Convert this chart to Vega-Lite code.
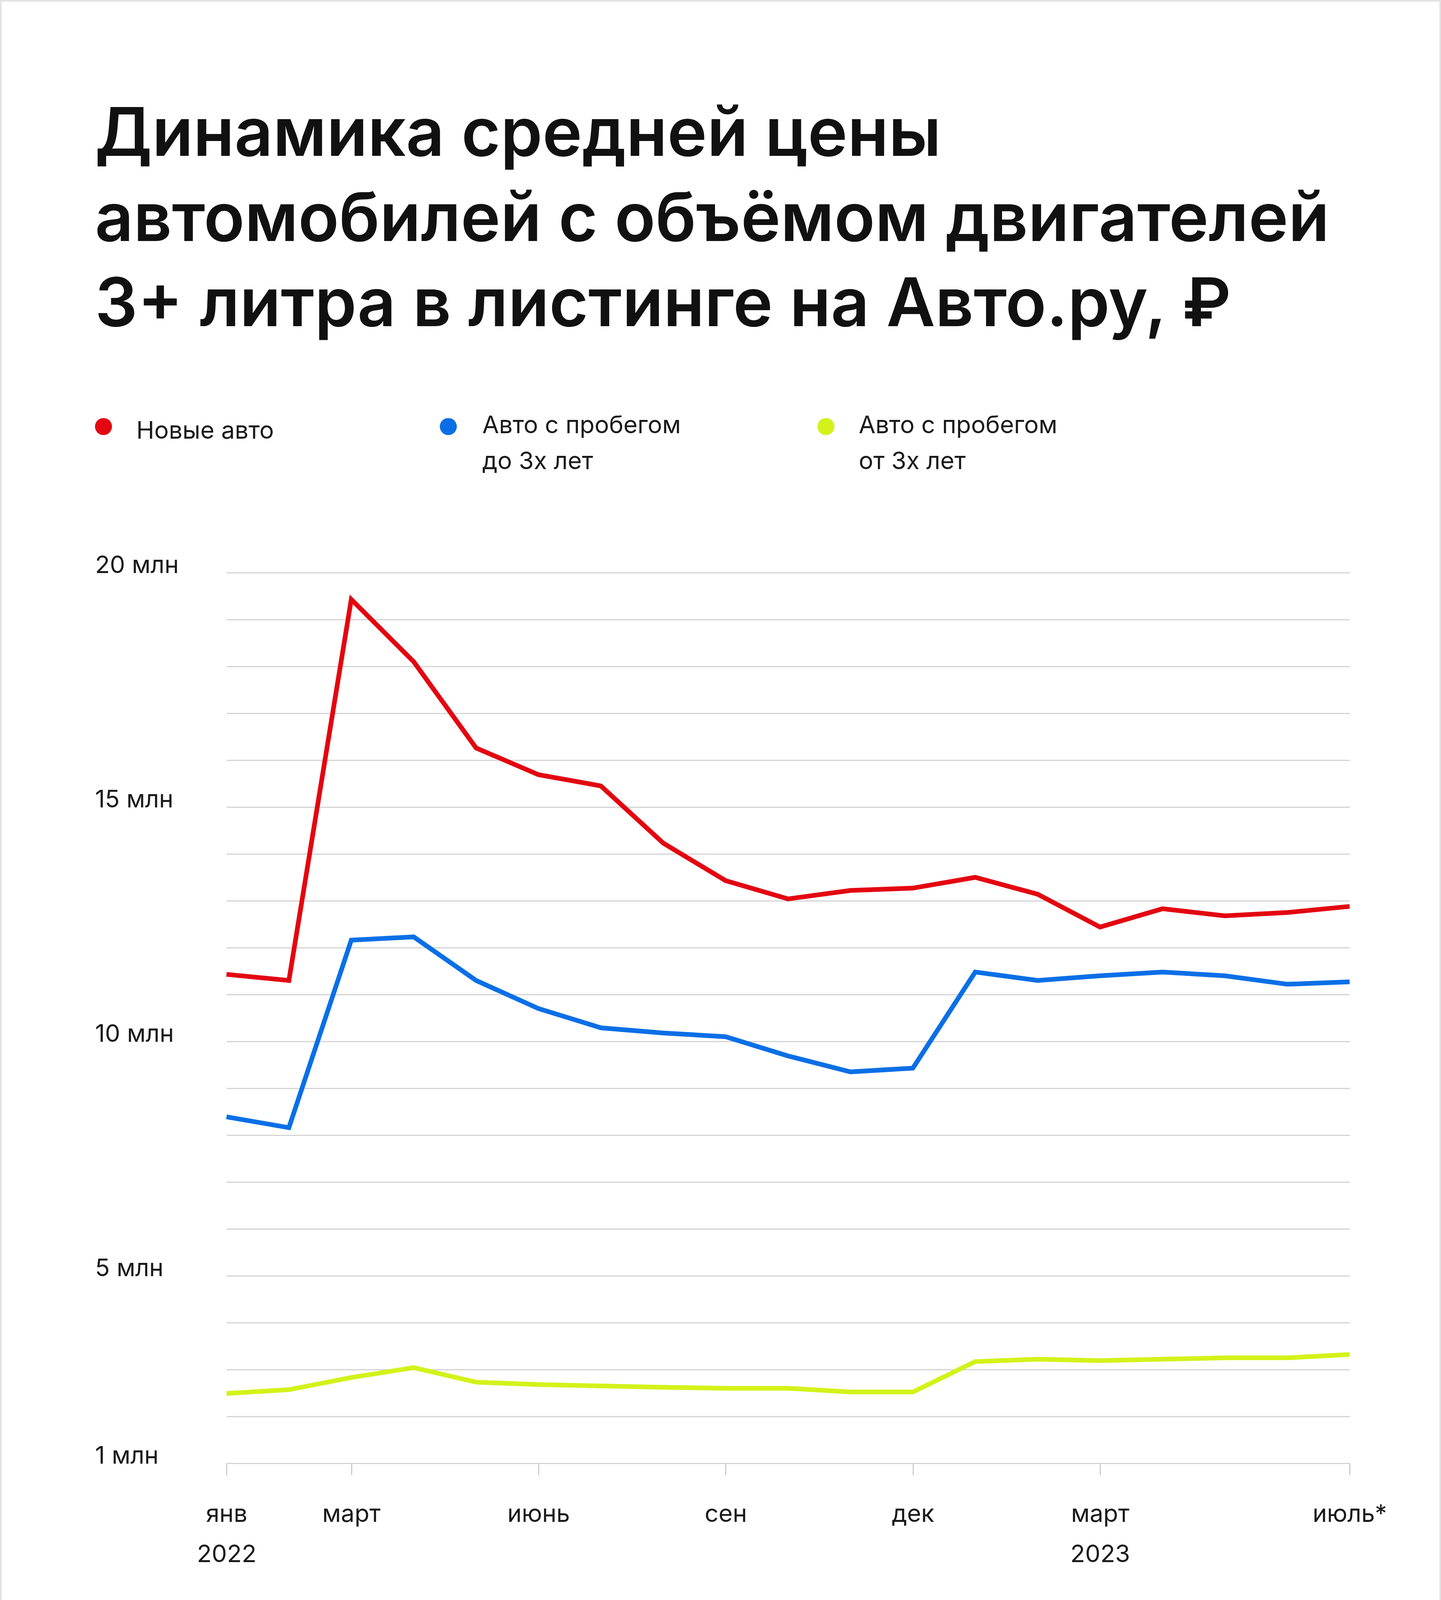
{
"$schema":"https://vega.github.io/schema/vega-lite/v6.json",
"autosize":{"type":"fit","contains":"padding"},
"width":3690,"height":4890,
"padding":0,
"background":"#ffffff",
"config":{"view":{"stroke":null},"font":"Inter"},
"layer":[
{"data":{"values":[{}]},"mark":{"type":"rect","x":-578,"x2":{"expr":"width+232"},"y":-1464,"y2":{"expr":"height+1142"},"fill":null,"stroke":"#e2e2e2","strokeWidth":4},"encoding":{}},
{"data":{"values":[
{"m":"2022-01","s":"new","v":11.43},{"m":"2022-02","s":"new","v":11.3},{"m":"2022-03","s":"new","v":19.43},{"m":"2022-04","s":"new","v":18.1},{"m":"2022-05","s":"new","v":16.26},{"m":"2022-06","s":"new","v":15.69},{"m":"2022-07","s":"new","v":15.45},{"m":"2022-08","s":"new","v":14.23},{"m":"2022-09","s":"new","v":13.43},{"m":"2022-10","s":"new","v":13.04},{"m":"2022-11","s":"new","v":13.22},{"m":"2022-12","s":"new","v":13.27},{"m":"2023-01","s":"new","v":13.5},{"m":"2023-02","s":"new","v":13.14},{"m":"2023-03","s":"new","v":12.44},{"m":"2023-04","s":"new","v":12.83},{"m":"2023-05","s":"new","v":12.68},{"m":"2023-06","s":"new","v":12.75},{"m":"2023-07","s":"new","v":12.88},
{"m":"2022-01","s":"u3","v":8.39},{"m":"2022-02","s":"u3","v":8.16},{"m":"2022-03","s":"u3","v":12.16},{"m":"2022-04","s":"u3","v":12.23},{"m":"2022-05","s":"u3","v":11.3},{"m":"2022-06","s":"u3","v":10.7},{"m":"2022-07","s":"u3","v":10.29},{"m":"2022-08","s":"u3","v":10.18},{"m":"2022-09","s":"u3","v":10.1},{"m":"2022-10","s":"u3","v":9.69},{"m":"2022-11","s":"u3","v":9.35},{"m":"2022-12","s":"u3","v":9.43},{"m":"2023-01","s":"u3","v":11.48},{"m":"2023-02","s":"u3","v":11.3},{"m":"2023-03","s":"u3","v":11.4},{"m":"2023-04","s":"u3","v":11.48},{"m":"2023-05","s":"u3","v":11.4},{"m":"2023-06","s":"u3","v":11.22},{"m":"2023-07","s":"u3","v":11.27},
{"m":"2022-01","s":"o3","v":2.49},{"m":"2022-02","s":"o3","v":2.57},{"m":"2022-03","s":"o3","v":2.83},{"m":"2022-04","s":"o3","v":3.04},{"m":"2022-05","s":"o3","v":2.73},{"m":"2022-06","s":"o3","v":2.68},{"m":"2022-07","s":"o3","v":2.65},{"m":"2022-08","s":"o3","v":2.62},{"m":"2022-09","s":"o3","v":2.6},{"m":"2022-10","s":"o3","v":2.6},{"m":"2022-11","s":"o3","v":2.52},{"m":"2022-12","s":"o3","v":2.52},{"m":"2023-01","s":"o3","v":3.17},{"m":"2023-02","s":"o3","v":3.22},{"m":"2023-03","s":"o3","v":3.19},{"m":"2023-04","s":"o3","v":3.22},{"m":"2023-05","s":"o3","v":3.25},{"m":"2023-06","s":"o3","v":3.25},{"m":"2023-07","s":"o3","v":3.32}
]},
"mark":{"type":"line","strokeWidth":12,"strokeJoin":"miter"},
"encoding":{
"x":{"field":"m","type":"ordinal","sort":null,"scale":{"type":"point","padding":0},
"axis":{"title":null,"values":["2022-01","2022-03","2022-06","2022-09","2022-12","2023-03","2023-07"],"labelAngle":0,"domain":false,"grid":false,"ticks":true,"tickColor":"#cccccc","tickWidth":3,"tickSize":30,"labelFont":"Inter","labelFontSize":62,"labelColor":"#1a1a1a","labelPadding":70,"labelBaseline":"top","labelLineHeight":103,"labelLimit":0,
"labelExpr":"datum.value=='2022-01' ? ['янв','2022'] : datum.value=='2022-03' ? 'март' : datum.value=='2022-06' ? 'июнь' : datum.value=='2022-09' ? 'сен' : datum.value=='2022-12' ? 'дек' : datum.value=='2023-03' ? ['март','2023'] : 'июль*'"}},
"y":{"field":"v","type":"quantitative","scale":{"domain":[1,20],"nice":false,"zero":false},
"axis":{"title":null,"values":[1,2,3,4,5,6,7,8,9,10,11,12,13,14,15,16,17,18,19,20],"domain":false,"ticks":false,"grid":true,"gridColor":"#d4d4d4","gridWidth":3,"labelAlign":"left","labelBaseline":"alphabetic","labelPadding":337,"labelLimit":0,"labelFont":"Inter","labelFontSize":62,"labelColor":"#1a1a1a",
"labelExpr":"indexof([1,5,10,15,20], datum.value) >= 0 ? datum.value + ' млн' : ''"}},
"color":{"field":"s","type":"nominal","scale":{"domain":["new","u3","o3"],"range":["#e30611","#0a6fe6","#d4f21a"]},"legend":null}
}},
{"data":{"values":[{}]},"mark":{"type":"text","x":-337,"y":-1067,"text":["Динамика средней цены","автомобилей с объёмом двигателей","3+ литра в листинге на Авто.ру, ₽"],"lineHeight":218,"font":"Inter","fontWeight":600,"fontSize":172,"align":"left","baseline":"alphabetic","color":"#111111"},"encoding":{}},
{"data":{"values":[{}]},"mark":{"type":"point","filled":true,"x":-315,"y":-374,"size":1900,"opacity":1,"color":"#e30611"},"encoding":{}},
{"data":{"values":[{}]},"mark":{"type":"point","filled":true,"x":568,"y":-374,"size":1900,"opacity":1,"color":"#0a6fe6"},"encoding":{}},
{"data":{"values":[{}]},"mark":{"type":"point","filled":true,"x":1535,"y":-374,"size":1900,"opacity":1,"color":"#d4f21a"},"encoding":{}},
{"data":{"values":[{}]},"mark":{"type":"text","x":-231,"y":-343,"text":"Новые авто","font":"Inter","fontSize":62,"align":"left","baseline":"alphabetic","color":"#1a1a1a"},"encoding":{}},
{"data":{"values":[{}]},"mark":{"type":"text","x":655,"y":-357,"text":["Авто с пробегом","до 3х лет"],"lineHeight":92,"font":"Inter","fontSize":62,"align":"left","baseline":"alphabetic","color":"#1a1a1a"},"encoding":{}},
{"data":{"values":[{}]},"mark":{"type":"text","x":1619,"y":-357,"text":["Авто с пробегом","от 3х лет"],"lineHeight":92,"font":"Inter","fontSize":62,"align":"left","baseline":"alphabetic","color":"#1a1a1a"},"encoding":{}},
{"data":{"values":[{}]},"mark":{"type":"text","x":-337,"y":{"expr":"height+409"},"text":["*Сегмент автомобилей с пробегом включает все автомобили, размещённые","в разделе «Авто с пробегом» на Авто.ру"],"lineHeight":93,"font":"Inter","fontSize":64,"align":"left","baseline":"alphabetic","color":"#7f93a8"},"encoding":{}},
{"data":{"values":[{}]},"mark":{"type":"rule","x":-337,"x2":{"expr":"width-16"},"y":{"expr":"height+677"},"strokeWidth":3,"color":"#d98a8a"},"encoding":{}},
{"data":{"values":[{}]},"mark":{"type":"text","x":-337,"y":{"expr":"height+886"},"text":"По данным Авто.ру, 2023","font":"Inter","fontSize":64,"align":"left","baseline":"alphabetic","color":"#7f93a8"},"encoding":{}},
{"data":{"values":[{}]},"mark":{"type":"text","x":643,"y":{"expr":"height+886"},"text":"mag.auto.ru","font":"Inter","fontSize":64,"align":"left","baseline":"alphabetic","color":"#7f93a8"},"encoding":{}},
{"data":{"values":[{}]},"mark":{"type":"text","x":1890,"y":{"expr":"height+886"},"text":"auto.ru","font":"Inter","fontWeight":700,"fontSize":82,"align":"left","baseline":"alphabetic","color":"#e30611"},"encoding":{}},
{"data":{"values":[{}]},"mark":{"type":"text","x":2265,"y":{"expr":"height+886"},"text":"Про бизнес","font":"DejaVu Serif","fontStyle":"italic","fontWeight":700,"fontSize":82,"align":"left","baseline":"alphabetic","color":"#111111"},"encoding":{}}
]
}
